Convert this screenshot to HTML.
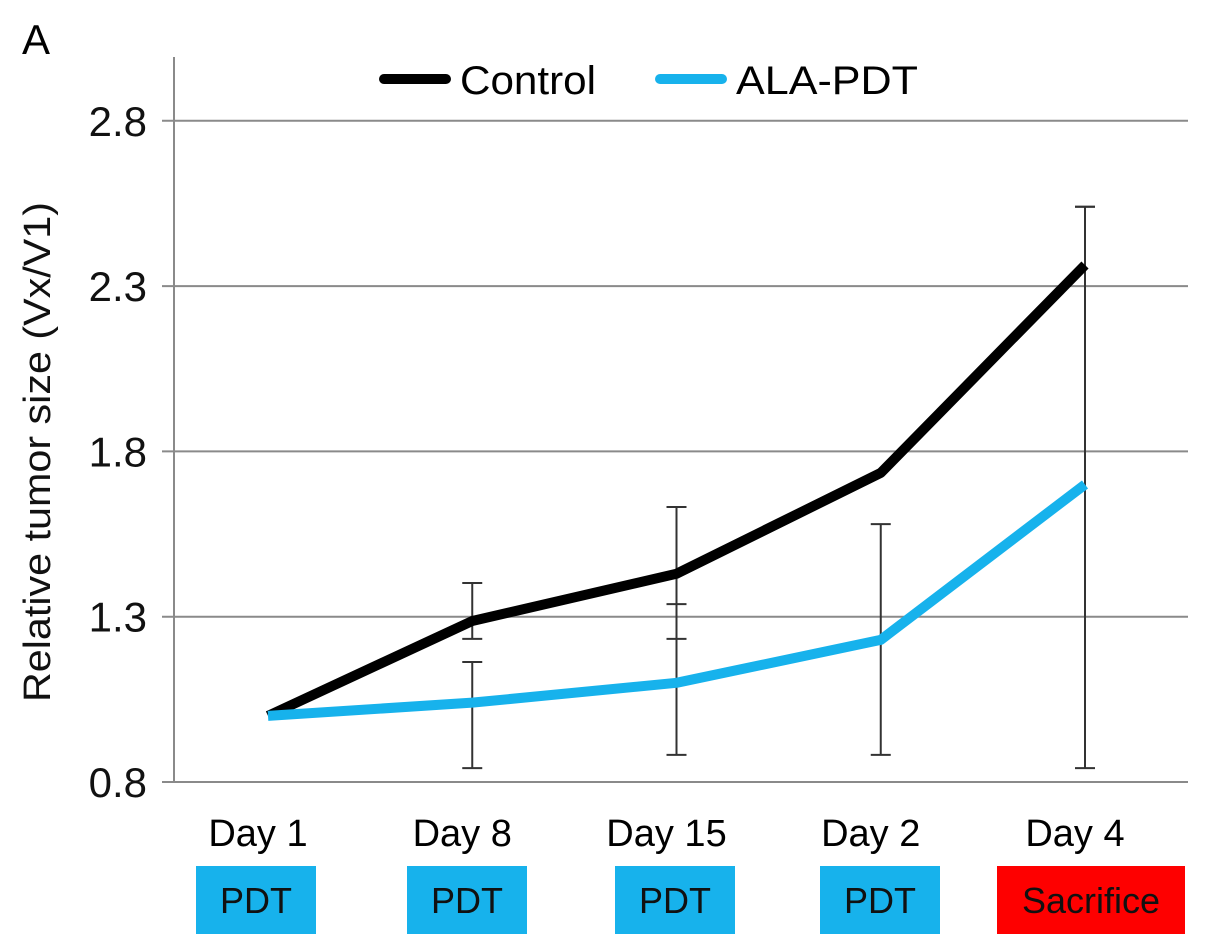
<!DOCTYPE html>
<html><head><meta charset="utf-8"><style>
body{margin:0;background:#fff;font-family:"Liberation Sans",sans-serif}
svg{display:block}
</style></head><body>
<svg id="c" width="1205" height="951" font-family="Liberation Sans, sans-serif">
<text x="22" y="54" font-size="42">A</text>
</svg>
<script>
const categories=["Day 1","Day 8","Day 15","Day 2","Day 4"];
const treatments=["PDT","PDT","PDT","PDT","Sacrifice"];
const controlValues=[1.0,1.287,1.43,1.735,2.364];
const alaValues=[1.0,1.04,1.10,1.23,1.70];
const controlErrLow=[null,1.233,1.233,null,null];
const controlErrHigh=[null,1.402,1.632,null,2.54];
const alaErrLow=[null,0.842,0.882,0.882,0.842];
const alaErrHigh=[null,1.163,1.338,1.58,2.54];
const yTicks=[0.8,1.3,1.8,2.3,2.8];
const yTickLabels=["0.8","1.3","1.8","2.3","2.8"];

const svg=document.getElementById('c');
const NS='http://www.w3.org/2000/svg';
function mk(t,a,p){const e=document.createElementNS(NS,t);for(const k in a)e.setAttribute(k,a[k]);(p||svg).appendChild(e);return e;}
const x0=174,x1=1188,yBot=782;
function ys(v){return yBot-(v-0.8)*330.6;}
function xs(i){return 268+i*204.25;}

yTicks.forEach((t,i)=>{
 const g=mk('line',{x1:162,x2:x1,y1:ys(t),y2:ys(t),stroke:'#8a8a8a','stroke-width':2});
 
 
 const tx=mk('text',{x:147,y:ys(t)+15,'font-size':42,'text-anchor':'end',fill:'#111'});
 tx.textContent=yTickLabels[i];
 
 
});
const ax=mk('line',{x1:x0,x2:x0,y1:57,y2:yBot,stroke:'#8a8a8a','stroke-width':2});


const yt=mk('text',{x:0,y:0,'font-size':38,'text-anchor':'middle',transform:'translate(50,452) rotate(-90)',fill:'#111',textLength:500,lengthAdjust:'spacingAndGlyphs'});
yt.textContent='Relative tumor size (Vx/V1)';



function errBars(lo,hi,name){
 lo.forEach((l,i)=>{
  const h=hi[i];
  const ends=[];
  if(l!==null)ends.push(l);if(h!==null)ends.push(h);
  if(ends.length===0)return;
  const mid=name==='control'?controlValues[i]:alaValues[i];
  const top=h!==null?h:mid, bot=l!==null?l:mid;
  const x=xs(i);
  const g=mk('g',{stroke:'#333','stroke-width':2});
  
  
  mk('line',{x1:x,x2:x,y1:ys(top),y2:ys(bot)},g);
  ends.forEach(v=>mk('line',{x1:x-10,x2:x+10,y1:ys(v),y2:ys(v)},g));
 });
}
errBars(controlErrLow,controlErrHigh,'control');
errBars(alaErrLow,alaErrHigh,'ala-pdt');

function line(vals,color,name){
 const p=mk('polyline',{points:vals.map((v,i)=>xs(i)+','+ys(v)).join(' '),fill:'none',stroke:color,'stroke-width':10,'stroke-linejoin':'round'});
 
 
}
line(controlValues,'#000','control-line');
line(alaValues,'#17b2ec','ala-pdt-line');

const lg=mk('g',{});


mk('line',{x1:384,x2:446,y1:79,y2:79,stroke:'#000','stroke-width':10,'stroke-linecap':'round'},lg);
let t1=mk('text',{x:460,y:94,'font-size':40,textLength:136,lengthAdjust:'spacingAndGlyphs'},lg);t1.textContent='Control';
mk('line',{x1:660,x2:722,y1:79,y2:79,stroke:'#17b2ec','stroke-width':10,'stroke-linecap':'round'},lg);
let t2=mk('text',{x:736,y:94,'font-size':40,textLength:182,lengthAdjust:'spacingAndGlyphs'},lg);t2.textContent='ALA-PDT';

const boxL=[196,407,615,820,997], boxR=[316,527,735,940,1185];
categories.forEach((c,i)=>{
 const t=mk('text',{x:xs(i)-10,y:846,'font-size':38,'text-anchor':'middle'});
 t.textContent=c;
 
 
 const r=mk('rect',{x:boxL[i],y:866,width:boxR[i]-boxL[i],height:68,fill:treatments[i]==='Sacrifice'?'#fe0000':'#17b2ec'});
 
 
 const bt=mk('text',{x:(boxL[i]+boxR[i])/2,y:913,'font-size':36,'text-anchor':'middle',fill:'#111'});
 bt.textContent=treatments[i];
 
 
});
</script>
</body></html>
